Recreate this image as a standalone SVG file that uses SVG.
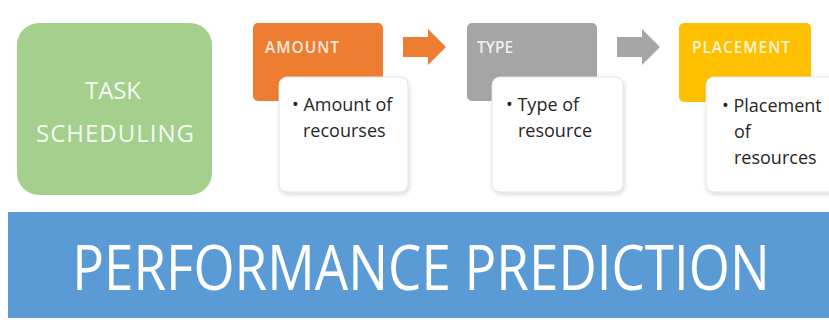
<svg xmlns="http://www.w3.org/2000/svg" width="829" height="322" viewBox="0 0 829 322">
  <defs>
    <filter id="shadow" x="-10%" y="-10%" width="130%" height="130%">
      <feDropShadow dx="1" dy="2" stdDeviation="2" flood-color="#000" flood-opacity="0.16"/>
    </filter>
  </defs>
  <style>
    .lbl { font-family: "Open Sans", "Lato", sans-serif; fill: #ffffff; }
    .hdr { font-family: "Open Sans", "Lato", sans-serif; font-size: 15.5px; font-weight: 600; fill: #ffffff; fill-opacity: 0.85; }
    .body { font-family: "Open Sans", "Lato", sans-serif; font-size: 18px; fill: #262626; }
    .card { fill: #ffffff; stroke: #e4e4e4; stroke-width: 1; filter: url(#shadow); }
  </style>
  <rect width="829" height="322" fill="#ffffff"/>

  <!-- task scheduling -->
  <g id="task-scheduling">
    <rect x="17" y="23" width="195" height="172" rx="22" fill="#a4cf8c"/>
    <text class="lbl" x="113" y="99" font-size="24" text-anchor="middle" fill-opacity="0.92" textLength="56">TASK</text>
    <text class="lbl" x="115" y="142" font-size="24" text-anchor="middle" fill-opacity="0.92" textLength="158">SCHEDULING</text>
  </g>

  <!-- amount -->
  <g id="amount">
    <rect x="253" y="23" width="130" height="78" rx="5" fill="#ed7d31"/>
    <text class="hdr" x="265" y="53" textLength="74">AMOUNT</text>
    <rect class="card" x="279" y="77" width="129" height="115" rx="8"/>
    <text class="body" x="292" y="111">• Amount of</text>
    <text class="body" x="303" y="137">recourses</text>
  </g>

  <!-- type -->
  <g id="type">
    <rect x="467" y="23" width="130" height="78" rx="5" fill="#a5a5a5"/>
    <text class="hdr" x="477" y="53">TYPE</text>
    <rect class="card" x="492" y="77" width="131" height="115" rx="8"/>
    <text class="body" x="506" y="111">• Type of</text>
    <text class="body" x="518" y="137">resource</text>
  </g>

  <!-- placement -->
  <g id="placement">
    <rect x="679" y="23" width="132" height="79" rx="5" fill="#ffc000"/>
    <text class="hdr" x="692" y="53" textLength="98">PLACEMENT</text>
    <rect class="card" x="706" y="77" width="135" height="115" rx="8"/>
    <text class="body" x="722" y="112">• Placement</text>
    <text class="body" x="734" y="138">of</text>
    <text class="body" x="734" y="164">resources</text>
  </g>

  <!-- arrows between steps -->
  <g id="connectors">
    <polygon points="403,37 428,37 428,29 446,47 428,65 428,57 403,57" fill="#ed7d31"/>
    <polygon points="617,37 642,37 642,29 660,47 642,65 642,57 617,57" fill="#a5a5a5"/>
  </g>

  <!-- performance prediction banner; the wide face is narrowed horizontally -->
  <g id="performance-prediction">
    <rect x="8" y="212" width="821" height="106" fill="#5b9bd5"/>
    <text class="lbl" transform="translate(421 290) scale(0.84 1)" x="0" y="0" font-size="63" text-anchor="middle">PERFORMANCE PREDICTION</text>
  </g>
</svg>
